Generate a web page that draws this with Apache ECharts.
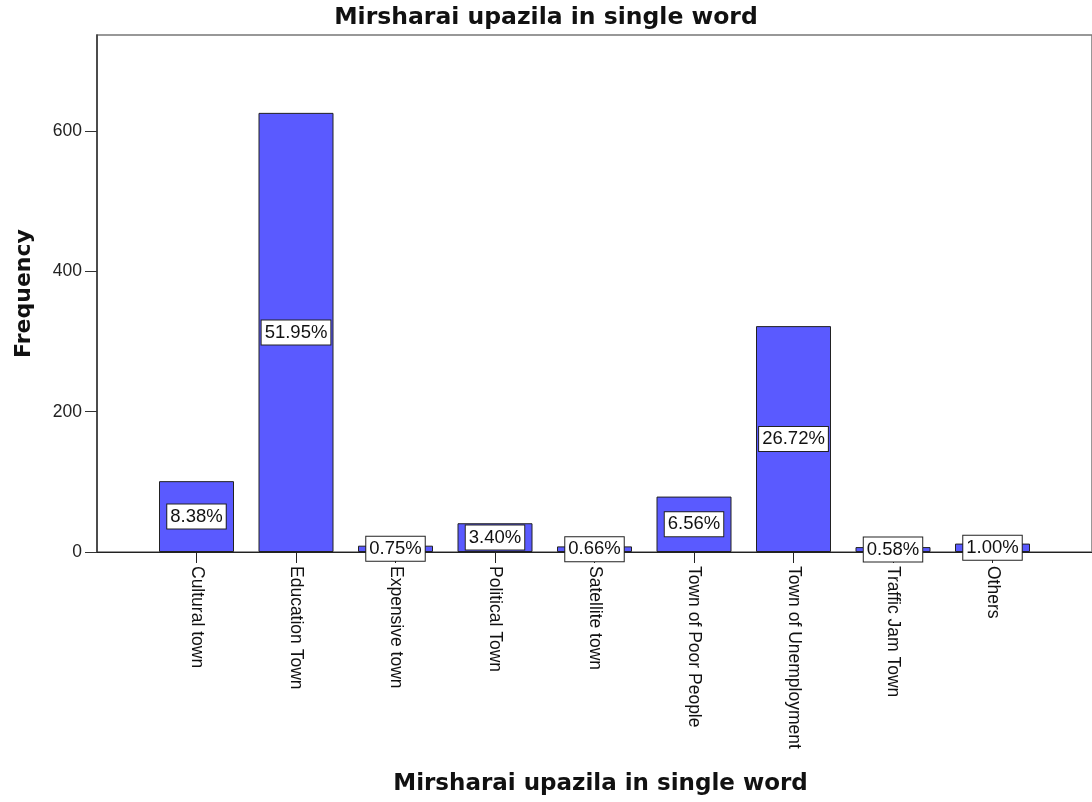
<!DOCTYPE html>
<html>
<head>
<meta charset="utf-8">
<script src="https://cdn.jsdelivr.net/npm/echarts@6/dist/echarts.min.js"></script>
<style>html,body{margin:0;padding:0;background:#fff;}#c{width:1092px;height:802px;}</style>
</head>
<body>
<div id="c"></div>
<script>
const categories = ['Cultural town','Education Town','Expensive town','Political Town','Satellite town','Town of Poor People','Town of Unemployment','Traffic Jam Town','Others'];
const frequencies = [101, 626, 9, 41, 8, 79, 322, 7, 12];
const percentLabels = ['8.38%','51.95%','0.75%','3.40%','0.66%','6.56%','26.72%','0.58%','1.00%'];
const yTicks = [0, 200, 400, 600];
const titleText = 'Mirsharai upazila in single word';

const positions = categories.map((c, i) => i);
const chart = echarts.init(document.getElementById('c'), null, {renderer: 'canvas'});
chart.setOption({
  animation: false,
  backgroundColor: '#fff',
  title: {
    text: titleText,
    left: 'center', top: 1,
    textStyle: {fontFamily: 'DejaVu Sans', fontWeight: 'bold', fontSize: 23.5, color: '#111'}
  },
  grid: {left: 97, right: -2, top: 35, bottom: 250, show: true, borderColor: '#777', borderWidth: 1.5, containLabel: false},
  xAxis: {
    type: 'value', min: -1, max: 9,
    name: titleText, nameLocation: 'middle', nameGap: 221,
    nameTextStyle: {fontFamily: 'DejaVu Sans', fontWeight: 'bold', fontSize: 23, color: '#111', padding: [0, 0, 0, 12]},
    axisLine: {show: true, onZero: false, lineStyle: {color: '#222', width: 1}},
    axisTick: {show: true, length: 11, customValues: positions, lineStyle: {color: '#222'}},
    splitLine: {show: false},
    axisLabel: {
      customValues: positions, rotate: -90, margin: 14,
      fontFamily: 'Liberation Sans', fontSize: 17.5, color: '#111',
      formatter: v => categories[Math.round(v)] || ''
    }
  },
  yAxis: {
    type: 'value', min: 0, max: 737,
    name: 'Frequency', nameLocation: 'middle', nameGap: 62,
    nameTextStyle: {fontFamily: 'DejaVu Sans', fontWeight: 'bold', fontSize: 22, color: '#111'},
    axisLine: {show: true, onZero: false, lineStyle: {color: '#333', width: 1.5}},
    axisTick: {show: true, length: 12, customValues: yTicks, lineStyle: {color: '#333'}},
    splitLine: {show: false},
    axisLabel: {customValues: yTicks, margin: 15, fontFamily: 'Liberation Sans', fontSize: 17.5, color: '#222'}
  },
  series: [{
    type: 'bar',
    barWidth: 75,
    data: frequencies.map((v, i) => [i, v]),
    itemStyle: {color: '#5a5aff', borderColor: '#222', borderWidth: 1},
    label: {
      show: true, position: 'inside',
      formatter: p => percentLabels[p.dataIndex],
      fontFamily: 'Liberation Sans', fontSize: 18.5, lineHeight: 19, color: '#111',
      backgroundColor: '#fff', borderColor: '#222', borderWidth: 1,
      padding: [3, 3, 2, 3]
    }
  }]
});
</script>
</body>
</html>
